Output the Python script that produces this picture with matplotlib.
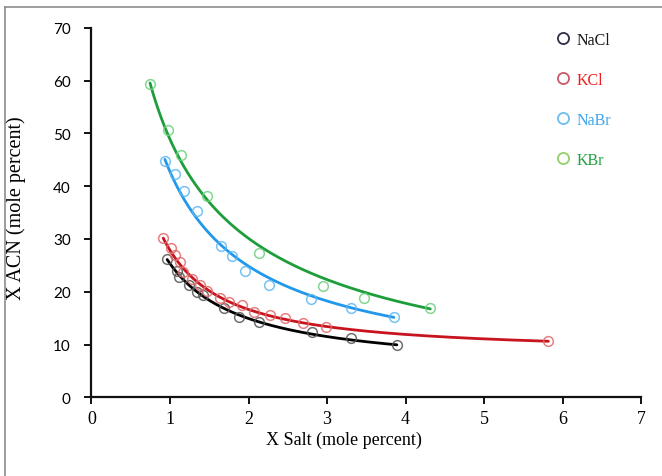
import numpy as np
import matplotlib
matplotlib.use("Agg")
import matplotlib.pyplot as plt
from matplotlib.lines import Line2D

# ---- data ----
nacl_x = [0.964, 1.084, 1.117, 1.244, 1.338, 1.415, 1.686, 1.873, 2.135, 2.814, 3.305, 3.89]
nacl_y = [26.1, 24.0, 22.7, 21.3, 20.0, 19.4, 16.9, 15.2, 14.2, 12.3, 11.2, 9.9]

kcl_x = [0.914, 1.008, 1.062, 1.126, 1.168, 1.275, 1.38, 1.473, 1.635, 1.753, 1.911, 2.067, 2.28, 2.462, 2.695, 2.992, 5.82]
kcl_y = [30.1, 28.2, 26.9, 25.6, 23.8, 22.4, 21.3, 20.2, 18.9, 18.1, 17.5, 16.2, 15.5, 15.0, 14.1, 13.4, 10.6]

nabr_x = [0.935, 1.062, 1.177, 1.346, 1.656, 1.784, 1.953, 2.262, 2.793, 3.31, 3.852]
nabr_y = [44.8, 42.2, 39.0, 35.3, 28.7, 26.8, 24.0, 21.3, 18.6, 17.0, 15.3]

kbr_x = [0.745, 0.977, 1.135, 1.473, 2.135, 2.95, 3.47, 4.316]
kbr_y = [59.4, 50.7, 45.9, 38.2, 27.3, 21.1, 18.8, 17.0]

series_names = ["NaCl", "KCl", "NaBr", "KBr"]
x_ticks = [0, 1, 2, 3, 4, 5, 6, 7]
y_ticks = [0, 10, 20, 30, 40, 50, 60, 70]

# ---- style ----
line_colors = ["#000000", "#c8141e", "#2298ec", "#1d9e3a"]
marker_colors = ["#555555", "#e06a6a", "#5db8f2", "#6fcf7f"]
legend_text_colors = ["#1a1a1a", "#ee1c1c", "#3fa6ee", "#22a040"]
legend_marker_colors = ["#2e2e44", "#c85a6a", "#6cbcef", "#92d06a"]

SERIF = ["Liberation Serif", "DejaVu Serif"]
SANS = ["Lato", "DejaVu Sans"]

fig = plt.figure(figsize=(6.62, 4.77), dpi=100)
fig.patch.set_facecolor("white")
# outer frame (grey line at left and top)
fig.add_artist(Line2D([5 / 662, 5 / 662], [0, 1 - 8 / 477], transform=fig.transFigure,
                      color="#8c8c8c", lw=1.2))
fig.add_artist(Line2D([5 / 662, 1], [1 - 8 / 477, 1 - 8 / 477], transform=fig.transFigure,
                      color="#8c8c8c", lw=1.2))

ax = fig.add_axes([91.5 / 662, 78.7 / 477, (641 - 91.5) / 662, (398.3 - 28.7) / 477])


def fit_curve(xs, ys):
    """Weighted least-squares fit of y = a + b * x**c (grid search on c)."""
    xs = np.asarray(xs, float)
    ys = np.asarray(ys, float)
    w = np.ones_like(xs)
    w[0] = w[-1] = 3.0
    best = None
    for c in np.linspace(-4, -0.1, 400):
        A = np.vstack([np.ones_like(xs), xs ** c]).T
        coef, *_ = np.linalg.lstsq(A * w[:, None], ys * w, rcond=None)
        err = np.sum((w * (A @ coef - ys)) ** 2)
        if best is None or err < best[0]:
            best = (err, c, coef)
    _, c, (a, b) = best
    xx = np.linspace(xs.min(), xs.max(), 300)
    return xx, a + b * xx ** c


all_x = [nacl_x, kcl_x, nabr_x, kbr_x]
all_y = [nacl_y, kcl_y, nabr_y, kbr_y]

for xs, ys, lc, mc in zip(all_x, all_y, line_colors, marker_colors):
    xx, yy = fit_curve(xs, ys)
    ax.plot(xx, yy, color=lc, lw=2.0, zorder=3, solid_capstyle="round")
    ax.plot(xs, ys, ls="", marker="o", ms=7, mfc="none", mec=mc, mew=1.1, alpha=0.85, zorder=4)

ax.set_xlim(0, 7)
ax.set_ylim(0, 70)
ax.set_xticks(x_ticks)
ax.set_yticks(y_ticks)
ax.set_xticklabels([str(v) for v in x_ticks], fontfamily=SERIF, fontsize=13)
ax.set_yticklabels([str(v) for v in y_ticks], fontfamily=SANS, fontsize=11)
for s in ["top", "right"]:
    ax.spines[s].set_visible(False)
for s in ["left", "bottom"]:
    ax.spines[s].set_linewidth(1.6)
    ax.spines[s].set_color("#111111")
ax.tick_params(axis="both", direction="out", length=5, width=1.4, color="#111111")
ax.tick_params(axis="x", pad=4)
ax.tick_params(axis="y", pad=10)

ax.set_xlabel("X Salt (mole percent)", fontfamily=SERIF, fontsize=13)
ax.xaxis.set_label_coords((344 - 91.5) / (641 - 91.5), -(440 - 398.3) / (398.3 - 28.7), transform=ax.transAxes)
ax.xaxis.label.set_va("center")
ax.set_ylabel("X ACN (mole percent)", fontfamily=SERIF, fontsize=14.5)
ax.yaxis.set_label_coords(-(91.5 - 16) / (641 - 91.5), (398.3 - 208) / (398.3 - 28.7), transform=ax.transAxes)
ax.yaxis.label.set_va("center")

handles = [Line2D([], [], ls="", marker="o", ms=8, mfc="none", mec=c, mew=1.3)
           for c in legend_marker_colors]
leg = ax.legend(handles, series_names, loc="upper left",
                bbox_to_anchor=(553 / 662, 1 - 33 / 477), bbox_transform=fig.transFigure,
                frameon=False, labelspacing=1.5, handletextpad=0.3, handlelength=1.2,
                prop={"family": SERIF, "size": 11.5}, borderaxespad=0, borderpad=0)
for t, c in zip(leg.get_texts(), legend_text_colors):
    t.set_color(c)

fig.savefig("out.png", dpi=100, facecolor="white")
